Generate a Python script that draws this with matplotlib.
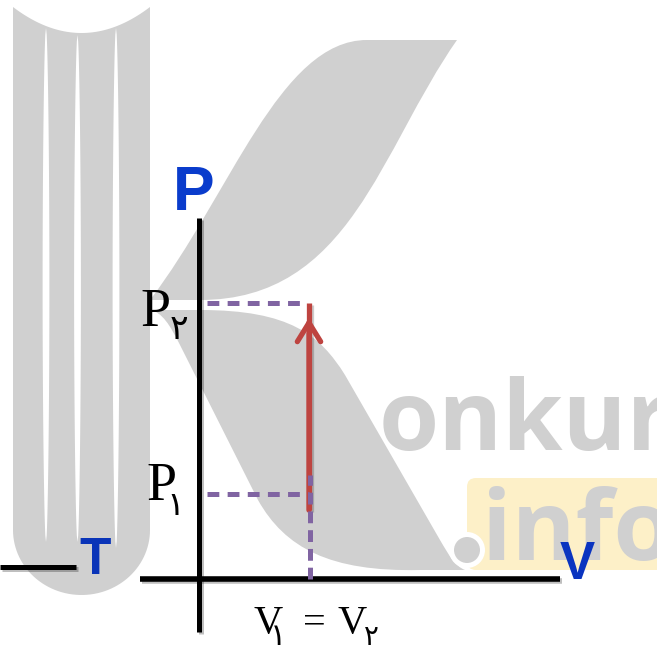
import matplotlib
matplotlib.use("Agg")
import matplotlib.pyplot as plt
from matplotlib.path import Path
from matplotlib.patches import PathPatch, Circle, FancyBboxPatch, Polygon
import matplotlib.patheffects as pe
import numpy as np

plt.rcParams['lines.scale_dashes'] = False

# ---------------- data (state values of the isochoric process) ----------------
V_states = [1.0, 1.0]          # V1, V2 (equal)
P_states = [1.0, 3.25]         # P1, P2
arrow_P = [0.81, 3.25]         # extent of the process arrow
state_labels_P = ["\u06F1", "\u06F2"]   # Persian subscripts ۱ ۲
axis_labels = ["P", "V", "T"]

# ---------------- figure ----------------
fig = plt.figure(figsize=(6.57, 6.49), dpi=100)
fig.patch.set_facecolor("white")

# background (watermark) axes in pixel coordinates
bg = fig.add_axes([0, 0, 1, 1], zorder=0)
bg.set_xlim(0, 657)
bg.set_ylim(649, 0)
bg.axis("off")
GRAY = "#d0d0d0"

# pillar
t = np.linspace(0, 1, 60)
top_x = 13 + 137 * t
top_y = 7 + 104 * t * (1 - t)
th = np.linspace(0, np.pi, 60)
bot_x = 81.5 + 68.5 * np.cos(th)
bot_y = 530 + 65 * np.sin(th)
px = np.concatenate([top_x, [150], bot_x, [13]])
py = np.concatenate([top_y, [530], bot_y, [7]])
bg.add_patch(Polygon(np.column_stack([px, py]), closed=True, fc=GRAY, ec="none"))
# white slits
for cx, y0, y1 in [(46, 28, 542), (77.5, 35, 542), (116, 28, 548)]:
    ys = np.linspace(y0, y1, 80)
    w = 3.4 * np.sin(np.pi * (ys - y0) / (y1 - y0)) ** 0.5
    sx = np.concatenate([cx - w, (cx + w)[::-1]])
    sy = np.concatenate([ys, ys[::-1]])
    bg.add_patch(Polygon(np.column_stack([sx, sy]), closed=True, fc="white", ec="none"))

# upper leaf
M, C, L, Z = Path.MOVETO, Path.CURVE4, Path.LINETO, Path.CLOSEPOLY
up_v = [(150, 300), (230, 195), (280, 40), (367, 40), (457, 40),
        (380, 150), (350, 300), (200, 300), (150, 300), (150, 300)]
up_c = [M, C, C, C, L, C, C, C, L, Z]
bg.add_patch(PathPatch(Path(up_v, up_c), fc=GRAY, ec="none"))
# lower leaf
lo_v = [(150, 310), (200, 310), (290, 310), (320, 335), (345, 375), (440, 540),
        (450, 557), (455, 566), (465, 570), (420, 570), (330, 572), (285, 548),
        (258, 500), (180, 345), (170, 325), (162, 312), (150, 310), (150, 310)]
lo_c = [M, L, C, C, C, L, C, C, C, L, C, C, C, L, C, C, C, Z]
bg.add_patch(PathPatch(Path(lo_v, lo_c), fc=GRAY, ec="none"))

# yellow box + text
bg.add_patch(FancyBboxPatch((467, 478), 210, 92, boxstyle="round,pad=0,rounding_size=9",
                            fc="#fdf0c8", ec="none"))
bg.text(379, 450, "onkur", fontsize=70, fontweight="bold", family="Open Sans",
        color=GRAY, ha="left", va="baseline")
bg.text(482, 560, "info", fontsize=70, fontweight="bold", family="Open Sans",
        color=GRAY, ha="left", va="baseline")
bg.add_patch(Circle((467, 550), 18, fc="white", ec="none"))
bg.add_patch(Circle((467, 550), 13, fc=GRAY, ec="none"))

# ---------------- diagram axes (data coords) ----------------
ax = fig.add_axes([0, 0, 1, 1], zorder=2)
ax.patch.set_alpha(0)
ax.axis("off")
SX, SY = 110.0, 85.0           # pixels per unit
ax.set_xlim(-199 / SX, 458 / SX)
ax.set_ylim(-70 / SY, 579 / SY)

shadow = [pe.SimpleLineShadow(offset=(1.5, -1.5), shadow_color="k", alpha=0.25), pe.Normal()]
BLACK = "black"
# axes lines
ax.plot([0, 0], [-53 / SY, 361 / SY], color=BLACK, lw=3.6, solid_capstyle="butt",
        path_effects=shadow, zorder=3)
ax.plot([-59 / SX, 361 / SX], [0, 0], color=BLACK, lw=4.0, solid_capstyle="butt",
        path_effects=shadow, zorder=3)
ax.plot([-199 / SX, -123 / SX], [12 / SY, 12 / SY], color=BLACK, lw=3.6,
        solid_capstyle="butt", path_effects=shadow, zorder=3)

RED = "#be4440"
PURPLE = "#8064a2"
V1 = V_states[0]
# process arrow
ax.plot([V1, V1], arrow_P, color=RED, lw=3.8, solid_capstyle="butt", zorder=4,
        path_effects=[pe.SimpleLineShadow(offset=(1.5, -1.5), alpha=0.2), pe.Normal()])
ax.annotate("", xy=(V1, arrow_P[1] - 15 / SY), xytext=(V1, arrow_P[0]),
            arrowprops=dict(arrowstyle="->,head_length=0.68,head_width=0.42",
                            color=RED, lw=3.8, shrinkA=0, shrinkB=0,
                            mutation_scale=20), zorder=4)

# dashed guides
dash = (0, (8.5, 6.0))
ax.plot([8 / SX, V1 - 5 / SX], [P_states[1], P_states[1]], color=PURPLE, lw=3.6,
        ls=dash, zorder=5, dash_capstyle="butt")
ax.plot([8 / SX, V1], [P_states[0], P_states[0]], color=PURPLE, lw=3.6,
        ls=dash, zorder=5, dash_capstyle="butt")
ax.plot([V1 + 1 / SX, V1 + 1 / SX], [0, P_states[0] + 19 / SY], color=PURPLE, lw=3.6,
        ls=(0, (8.5, 5.0)), zorder=5, dash_capstyle="butt")

# axis titles (blue)
BLUE = "#0a3ccc"
ax.annotate(axis_labels[0], xy=(0, 361 / SY), xytext=(-5, 24), textcoords="offset pixels",
            ha="center", va="center", fontsize=45, fontweight="bold",
            family="Liberation Sans", color=BLUE, zorder=6)
ax.annotate(axis_labels[1], xy=(361 / SX, 0), xytext=(17, 14), textcoords="offset pixels",
            ha="center", va="center", fontsize=38, fontweight="bold",
            family="Liberation Sans", color="#0a34c0", zorder=6)
ax.annotate(axis_labels[2], xy=(-123 / SX, 12 / SY), xytext=(19, 7), textcoords="offset pixels",
            ha="center", va="center", fontsize=37, fontweight="bold",
            family="Liberation Sans", color="#0a34b8", zorder=6)

# state labels P1, P2
serif = ["Liberation Serif", "DejaVu Sans"]
for P, sub, (dxp, dyp, dxs, dys, fs) in zip(P_states, state_labels_P,
                                           [(-37.5, -6, -24, -21, 24), (-44, -23, -20, -36, 25)]):
    ax.annotate("P", xy=(0, P), xytext=(dxp, dyp), textcoords="offset pixels",
                ha="center", va="baseline", fontsize=39, family=serif, color="black", zorder=6)
    ax.annotate(sub, xy=(0, P), xytext=(dxs, dys), textcoords="offset pixels",
                ha="center", va="baseline", fontsize=fs, family=serif, color="black", zorder=6)

# V1 = V2 label
ax.annotate("V", xy=(V1, 0), xytext=(-41, -54), textcoords="offset pixels",
            ha="center", va="baseline", fontsize=29, family=serif, zorder=6)
ax.annotate(state_labels_P[0], xy=(V1, 0), xytext=(-31, -66), textcoords="offset pixels",
            ha="center", va="baseline", fontsize=22, family=serif, zorder=6)
ax.annotate("=", xy=(V1, 0), xytext=(5.5, -54), textcoords="offset pixels",
            ha="center", va="baseline", fontsize=29, family=serif, zorder=6)
ax.annotate("V", xy=(V1, 0), xytext=(43.5, -54), textcoords="offset pixels",
            ha="center", va="baseline", fontsize=29, family=serif, zorder=6)
ax.annotate(state_labels_P[1], xy=(V1, 0), xytext=(62, -66), textcoords="offset pixels",
            ha="center", va="baseline", fontsize=20, family=serif, zorder=6)

fig.savefig("out.png", dpi=100)
